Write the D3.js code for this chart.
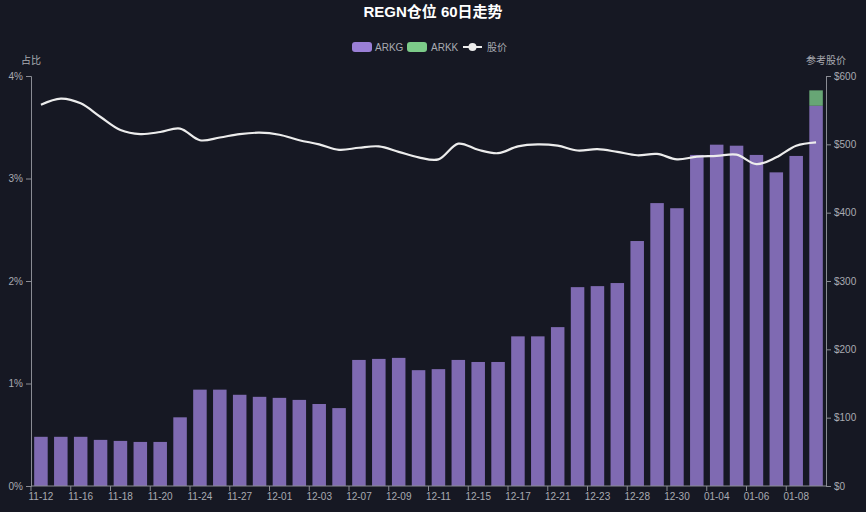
<!DOCTYPE html>
<html><head><meta charset="utf-8">
<script src="https://cdn.jsdelivr.net/npm/d3@7/dist/d3.min.js"></script>
<style>
html,body{margin:0;padding:0;background:#161823;}
svg{display:block;font-family:"Liberation Sans","Noto Sans CJK SC",sans-serif;}
</style></head>
<body>
<svg id="chart" width="866" height="512"></svg>
<script>
const dates = ["11-12","11-13","11-16","11-17","11-18","11-19","11-20","11-23","11-24","11-25",
"11-27","11-30","12-01","12-02","12-03","12-04","12-07","12-08","12-09","12-10",
"12-11","12-14","12-15","12-16","12-17","12-18","12-21","12-22","12-23","12-24",
"12-28","12-29","12-30","12-31","01-04","01-05","01-06","01-07","01-08","01-11"];
const arkg = [0.48,0.48,0.48,0.45,0.44,0.43,0.43,0.67,0.94,0.94,
0.89,0.87,0.86,0.84,0.80,0.76,1.23,1.24,1.25,1.13,
1.14,1.23,1.21,1.21,1.46,1.46,1.55,1.94,1.95,1.98,
2.39,2.76,2.71,3.23,3.33,3.32,3.23,3.06,3.22,3.71];
const arkk = [0,0,0,0,0,0,0,0,0,0,
0,0,0,0,0,0,0,0,0,0,
0,0,0,0,0,0,0,0,0,0,
0,0,0,0,0,0,0,0,0,0.15];
const price = [558,567,560,540,521,515,518,523,506,510,
515,517,514,506,500,492,495,497,489,481,
478,501,492,487,497,500,498,491,493,489,
484,486,478,482,483,485,471,481,498,503];
const pctTicks = [0,1,2,3,4];
const priceTicks = [0,100,200,300,400,500,600];

const svg = d3.select("#chart");
const W = 866, H = 512;
const m = {left:31, right:40, top:76, bottom:26};
const x0 = m.left, x1 = W - m.right, y0 = H - m.bottom, y1 = m.top;

const x = d3.scaleBand().domain(dates).range([x0, x1]).paddingInner(0.32).paddingOuter(0.16);
const xb = d3.scaleBand().domain(dates).range([x0, x1]).padding(0);
const yL = d3.scaleLinear().domain([0,4]).range([y0, y1]);
const yR = d3.scaleLinear().domain([0,600]).range([y0, y1]);

const purple = "#9a7fd6", green = "#7ccb89";
const axisCol = "#8a8c94", textCol = "#a9abb2";

// bars
const g = svg.append("g");
g.selectAll("rect.arkg").data(dates).join("rect")
  .attr("x", d => x(d)).attr("width", x.bandwidth())
  .attr("y", (d,i) => yL(arkg[i])).attr("height", (d,i) => yL(0) - yL(arkg[i]))
  .attr("fill", purple).attr("fill-opacity", 0.8);
g.selectAll("rect.arkk").data(dates).join("rect")
  .attr("x", d => x(d)).attr("width", x.bandwidth())
  .attr("y", (d,i) => yL(arkg[i] + arkk[i])).attr("height", (d,i) => yL(arkg[i]) - yL(arkg[i] + arkk[i]))
  .attr("fill", green).attr("fill-opacity", 0.8);

// line
const line = d3.line().x((d,i) => x(dates[i]) + x.bandwidth()/2).y(d => yR(d)).curve(d3.curveCatmullRom.alpha(0.5));
svg.append("path").datum(price).attr("d", line).attr("fill","none")
  .attr("stroke","#ececec").attr("stroke-width",2.2);

// left axis
const la = svg.append("g").attr("transform",`translate(${x0},0)`)
  .call(d3.axisLeft(yL).tickValues(pctTicks).tickFormat(d => d + "%").tickSize(5).tickPadding(3));
// right axis
const ra = svg.append("g").attr("transform",`translate(${x1},0)`)
  .call(d3.axisRight(yR).tickValues(priceTicks).tickFormat(d => "$" + d).tickSize(5).tickPadding(3));
// bottom axis
const ba = svg.append("g").attr("transform",`translate(0,${y0})`)
  .call(d3.axisBottom(x).tickValues(dates.filter((d,i) => i % 2 === 0)).tickSize(0).tickPadding(7));
// tick marks at band boundaries every 2
svg.append("g").selectAll("line").data(dates.filter((d,i)=> i%2===0)).join("line")
  .attr("x1", d => xb(d)).attr("x2", d => xb(d)).attr("y1", y0).attr("y2", y0+5)
  .attr("stroke", axisCol);

[la, ra, ba].forEach(a => {
  a.select(".domain").attr("stroke", axisCol);
  a.selectAll(".tick line").attr("stroke", axisCol);
  a.selectAll("text").attr("fill", textCol).attr("font-size", 10);
});
ba.select(".domain").attr("d", `M${x0},0H${x1}`);

// axis names
svg.append("text").attr("x", x0).attr("y", 64).attr("text-anchor","middle")
  .attr("fill", textCol).attr("font-size", 10).text("占比");
svg.append("text").attr("x", x1).attr("y", 64).attr("text-anchor","middle")
  .attr("fill", textCol).attr("font-size", 10).text("参考股价");

// title
svg.append("text").attr("x", W/2).attr("y", 17).attr("text-anchor","middle")
  .attr("fill","#ffffff").attr("font-size",15).attr("font-weight","bold").text("REGN仓位 60日走势");

// legend
const lg = svg.append("g");
lg.append("rect").attr("x",352).attr("y",42).attr("width",20).attr("height",10).attr("rx",3).attr("fill",purple);
lg.append("text").attr("x",375).attr("y",51).attr("fill",textCol).attr("font-size",10).text("ARKG");
lg.append("rect").attr("x",407).attr("y",42).attr("width",20).attr("height",10).attr("rx",3).attr("fill",green);
lg.append("text").attr("x",431).attr("y",51).attr("fill",textCol).attr("font-size",10).text("ARKK");
lg.append("line").attr("x1",463).attr("x2",482).attr("y1",47).attr("y2",47).attr("stroke","#ececec").attr("stroke-width",2);
lg.append("circle").attr("cx",472.5).attr("cy",47).attr("r",4).attr("fill","#ececec");
lg.append("text").attr("x",487).attr("y",51).attr("fill",textCol).attr("font-size",10).text("股价");
</script>
</body></html>
